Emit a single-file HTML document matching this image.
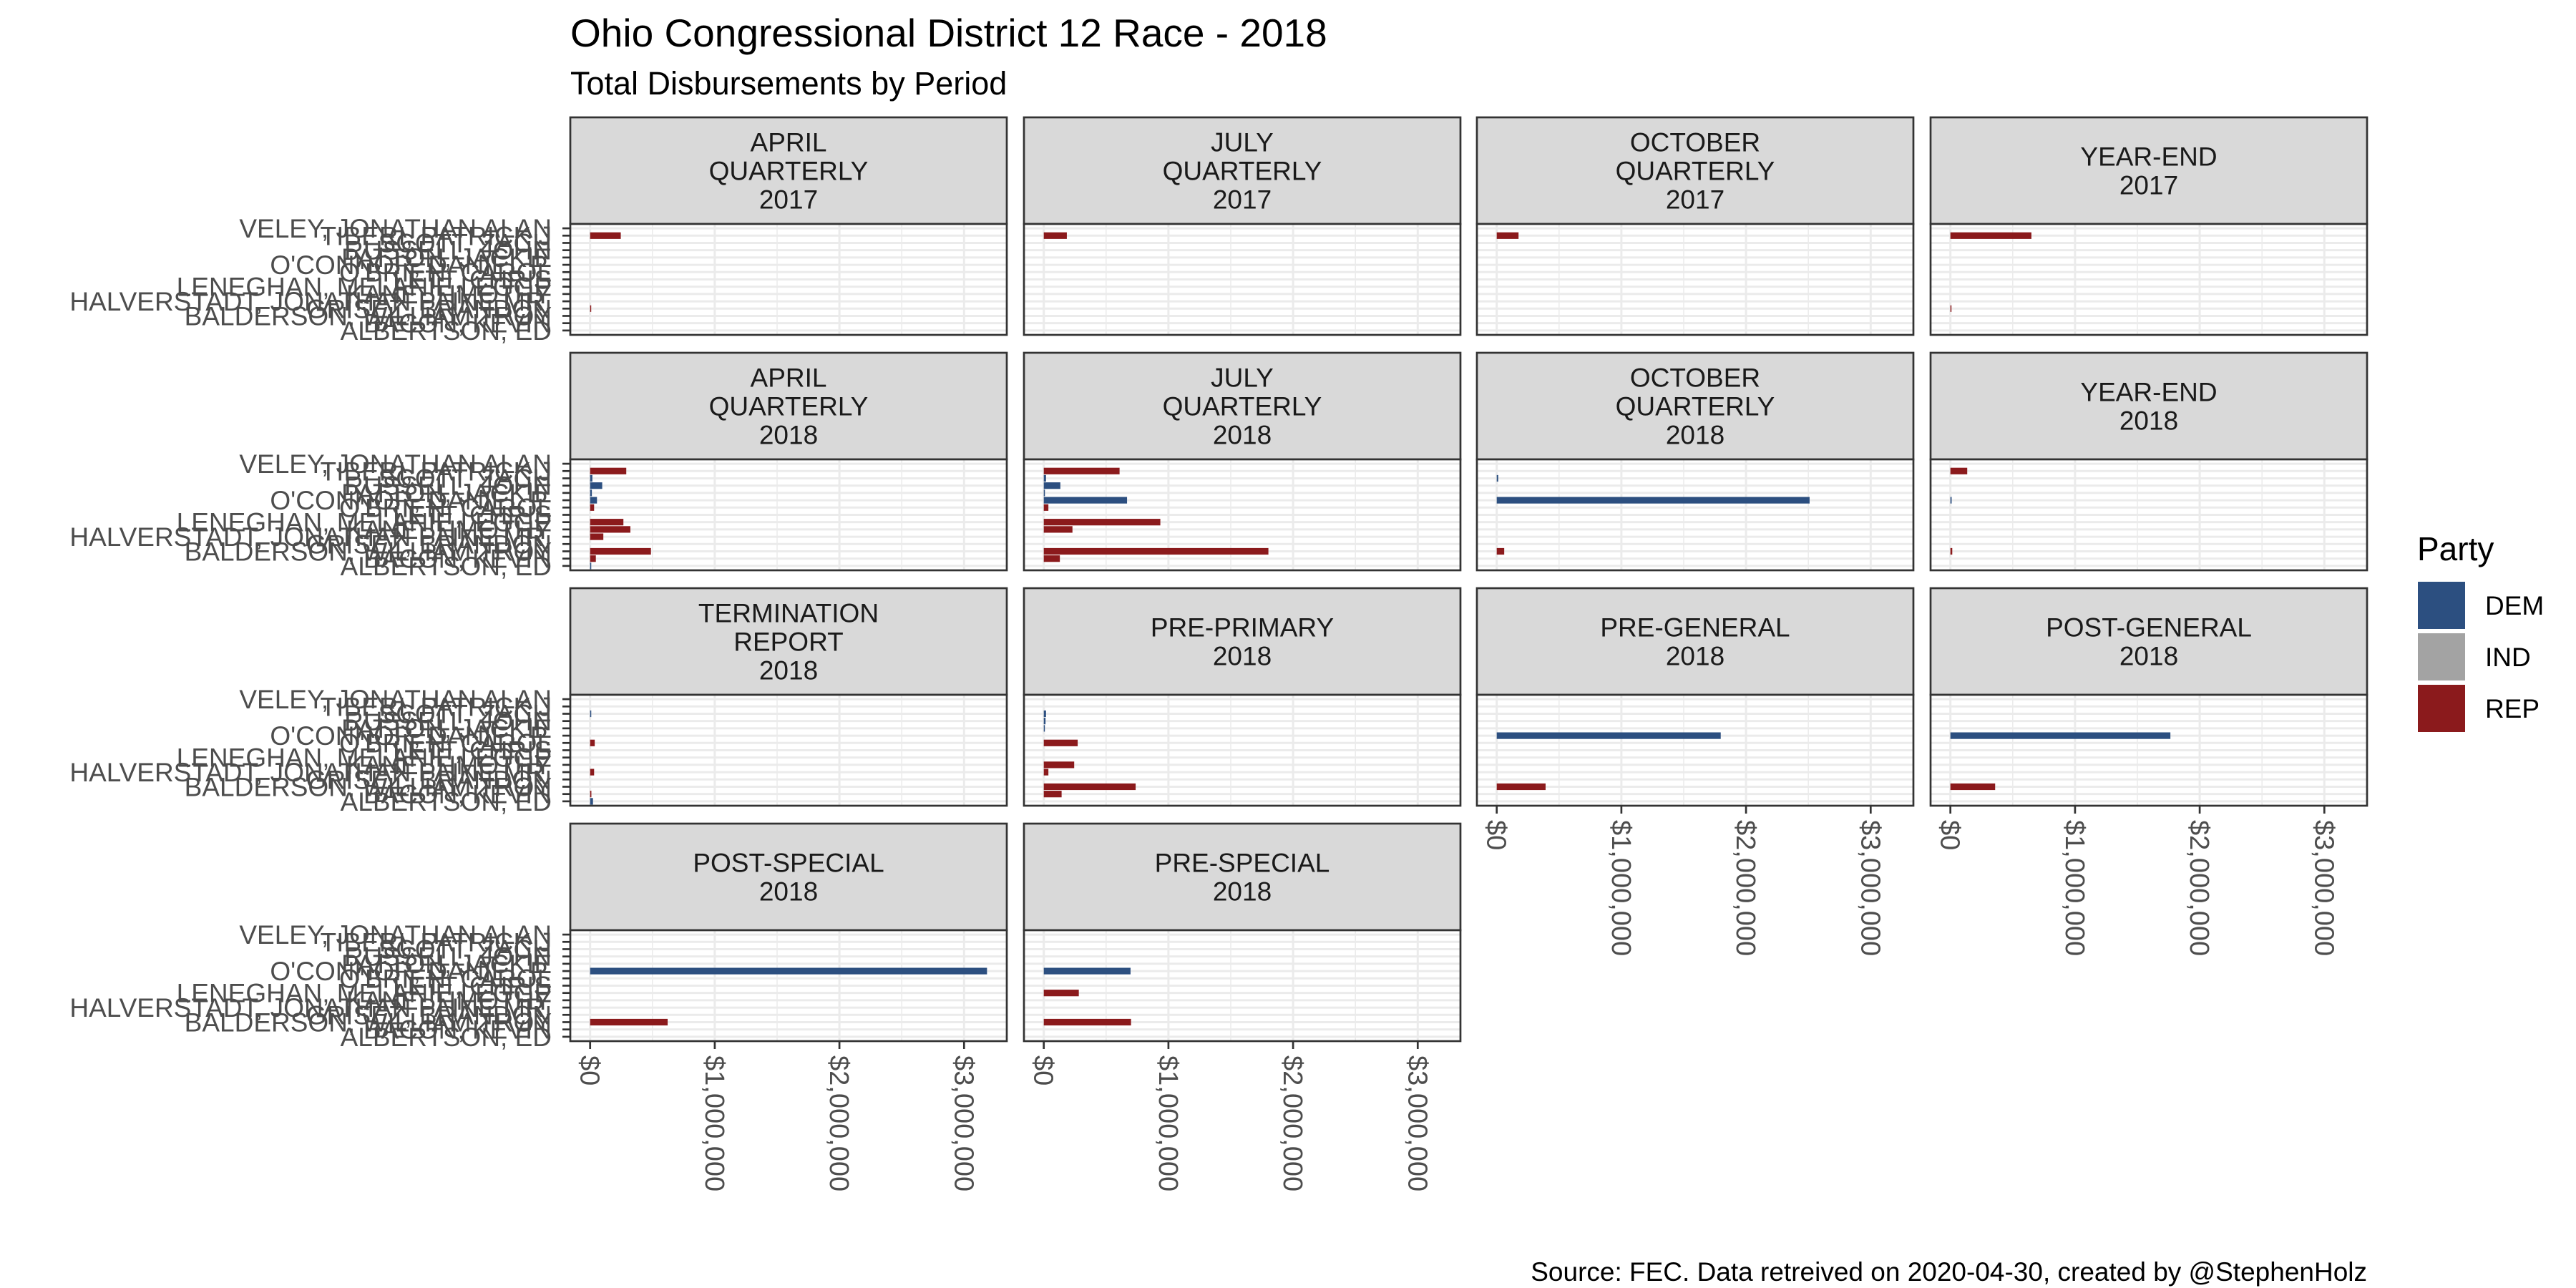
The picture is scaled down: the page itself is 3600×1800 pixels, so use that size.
<!DOCTYPE html>
<html><head><meta charset="utf-8">
<style>html,body{margin:0;padding:0;background:#fff;}svg{display:block;}</style>
</head><body>
<svg id="s" xmlns="http://www.w3.org/2000/svg" width="3600" height="1800" viewBox="0 0 3600 1800" font-family="Liberation Sans, Arial, sans-serif">
<rect width="3600" height="1800" fill="#fff"/>
<text x="797" y="65" font-size="55" fill="#000">Ohio Congressional District 12 Race - 2018</text>
<text x="797" y="132" font-size="45" fill="#000">Total Disbursements by Period</text>
<text x="3308" y="1790" font-size="37" fill="#000" text-anchor="end">Source: FEC. Data retreived on 2020-04-30, created by @StephenHolz</text>
<text x="3378" y="783" font-size="46" fill="#000">Party</text>
<rect x="3379" y="813" width="66" height="66" fill="#2C4F80"/>
<rect x="3379" y="885" width="66" height="66" fill="#A3A3A3"/>
<rect x="3379" y="957" width="66" height="66" fill="#8B1A1C"/>
<text x="3473" y="859" font-size="37">DEM</text>
<text x="3473" y="931" font-size="37">IND</text>
<text x="3473" y="1003" font-size="37">REP</text>
<g id="g"></g>
</svg>
<script>
var g=document.getElementById('g'),out='';
var cols=[797,1431,2064,2698],rows=[164,493,822,1151],W=610,SH=149,PH=155,PPM=174.2,X0=27.7,U=10.2;
var names=["VELEY, JONATHAN ALAN","TIBERI, PATRICK J","SCOTT, ZACH","RUSSELL, JOHN","PATTON, JACKIE","O'CONNOR, DANIEL P.","O'BRIEN, CAROL","LETT, CHRIS","LENEGHAN, MELANIE LEGGE","KANE, TIMOTHY","HALVERSTADT, JONATHAN PAINE MR.","GRISEZ, BRANDON","BALDERSON, WILLIAM TROY","BACON, KEVIN","ALBERTSON, ED"];
var C={D:"#2C4F80",R:"#8B1A1C",I:"#A3A3A3"};
var P=[
[0,0,["APRIL","QUARTERLY","2017"],[[2,'R',.246],[12,'R',.006]]],
[0,1,["JULY","QUARTERLY","2017"],[[2,'R',.185]]],
[0,2,["OCTOBER","QUARTERLY","2017"],[[2,'R',.175]]],
[0,3,["YEAR-END","2017"],[[2,'R',.65],[12,'R',.006]]],
[1,0,["APRIL","QUARTERLY","2018"],[[2,'R',.29],[3,'D',.018],[4,'D',.097],[5,'D',.014],[6,'D',.055],[7,'R',.032],[9,'R',.267],[10,'R',.323],[11,'R',.106],[13,'R',.488],[14,'R',.046],[15,'D',.009]]],
[1,1,["JULY","QUARTERLY","2018"],[[2,'R',.608],[3,'D',.018],[4,'D',.133],[5,'D',.009],[6,'D',.668],[7,'R',.037],[9,'R',.935],[10,'R',.23],[13,'R',1.802],[14,'R',.129]]],
[1,2,["OCTOBER","QUARTERLY","2018"],[[3,'D',.012],[6,'D',2.51],[13,'R',.06]]],
[1,3,["YEAR-END","2018"],[[2,'R',.135],[6,'D',.01],[13,'R',.015]]],
[2,0,["TERMINATION","REPORT","2018"],[[3,'D',.009],[7,'R',.037],[11,'R',.032],[14,'R',.01],[15,'D',.023]]],
[2,1,["PRE-PRIMARY","2018"],[[3,'D',.018],[4,'D',.014],[5,'D',.005],[7,'R',.272],[10,'R',.244],[11,'R',.037],[13,'R',.737],[14,'R',.143]]],
[2,2,["PRE-GENERAL","2018"],[[6,'D',1.797],[13,'R',.392]]],
[2,3,["POST-GENERAL","2018"],[[6,'D',1.765],[13,'R',.359]]],
[3,0,["POST-SPECIAL","2018"],[[6,'D',3.184],[13,'R',.622]]],
[3,1,["PRE-SPECIAL","2018"],[[6,'D',.696],[9,'R',.281],[13,'R',.70]]]
];
var axisX={"2,2":1,"2,3":1,"3,0":1,"3,1":1};
P.forEach(function(p){
 var r=p[0],c=p[1],L=cols[c],T=rows[r],PT=T+SH,PB=PT+PH,x0=L+X0;
 out+='<rect x="'+L+'" y="'+T+'" width="'+W+'" height="'+SH+'" fill="#D9D9D9" stroke="#333" stroke-width="2.7"/>';
 var cx=L+W/2,cy=T+SH/2,n=p[2].length;
 p[2].forEach(function(t,i){var by=cy+13+(i-(n-1)/2)*40;out+='<text x="'+cx+'" y="'+by+'" font-size="37" fill="#1A1A1A" text-anchor="middle">'+t+'</text>';});
 out+='<rect x="'+L+'" y="'+PT+'" width="'+W+'" height="'+PH+'" fill="#fff"/>';
 for(var i=1;i<=15;i++){var y=PB-(i-0.4)*U;out+='<line x1="'+L+'" x2="'+(L+W)+'" y1="'+y+'" y2="'+y+'" stroke="#EBEBEB" stroke-width="3"/>';}
 [0.5,1.5,2.5].forEach(function(v){var x=x0+v*PPM;out+='<line x1="'+x+'" x2="'+x+'" y1="'+PT+'" y2="'+PB+'" stroke="#EBEBEB" stroke-width="1.5"/>';});
 [0,1,2,3].forEach(function(v){var x=x0+v*PPM;out+='<line x1="'+x+'" x2="'+x+'" y1="'+PT+'" y2="'+PB+'" stroke="#EBEBEB" stroke-width="3"/>';});
 p[3].forEach(function(b){var i=16-b[0],y=PB-(i-0.4)*U-4.6;out+='<rect x="'+x0+'" y="'+y+'" width="'+Math.max(1.5,b[2]*PPM)+'" height="9.2" fill="'+C[b[1]]+'"/>';});
 out+='<rect x="'+L+'" y="'+PT+'" width="'+W+'" height="'+PH+'" fill="none" stroke="#333" stroke-width="2.7"/>';
 if(c==0){
  for(var i=1;i<=15;i++){var y=PB-(i-0.4)*U;out+='<line x1="'+(L-11)+'" x2="'+L+'" y1="'+y+'" y2="'+y+'" stroke="#333" stroke-width="2.7"/>';
   out+='<text x="'+(L-26)+'" y="'+(y+13)+'" font-size="37" fill="#4D4D4D" text-anchor="end">'+names[15-i].replace("'","&#39;")+'</text>';}
 }
 if(axisX[r+","+c]){
  ["$0","$1,000,000","$2,000,000","$3,000,000"].forEach(function(t,v){var x=x0+v*PPM;
   out+='<line x1="'+x+'" x2="'+x+'" y1="'+PB+'" y2="'+(PB+11)+'" stroke="#333" stroke-width="2.7"/>';
   out+='<text transform="translate('+(x-13)+','+(PB+20)+') rotate(90)" font-size="38" fill="#4D4D4D">'+t+'</text>';});
 }
});
g.innerHTML=out;
</script>
</body></html>
